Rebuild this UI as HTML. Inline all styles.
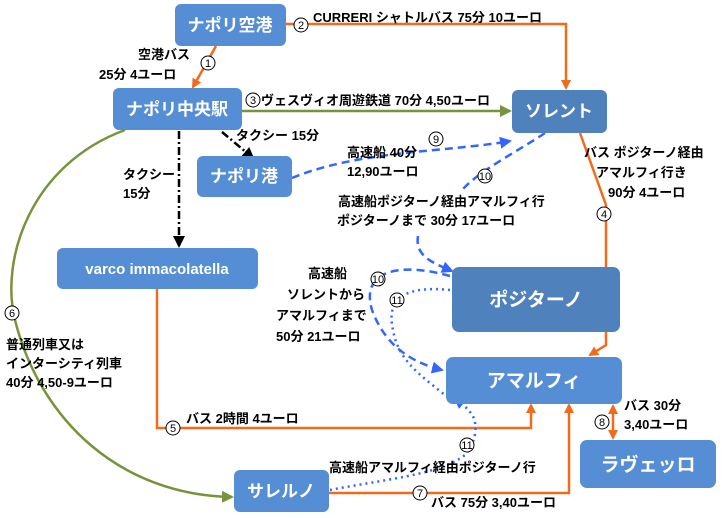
<!DOCTYPE html>
<html><head><meta charset="utf-8"><style>
body{margin:0;background:#fff;}
svg{display:block;font-family:"Liberation Sans","Noto Sans CJK JP",sans-serif;}
.n{fill:#558ed5;}
.nt{fill:#fff;font-weight:bold;font-size:17px;text-anchor:middle;}
.l{font-size:13px;font-weight:bold;fill:#000;}
.c{fill:#fff;stroke:#000;stroke-width:1;}
.cn{font-size:11px;text-anchor:middle;fill:#000;}
</style></head><body>
<svg width="723" height="518" viewBox="0 0 723 518">
<defs>
<marker id="ao" markerWidth="10" markerHeight="10" refX="8" refY="5" orient="auto" markerUnits="userSpaceOnUse"><path d="M0,0L10,5L0,10z" fill="#f26b1d"/></marker>
<marker id="ao2" markerWidth="10" markerHeight="10" refX="8" refY="5" orient="auto-start-reverse" markerUnits="userSpaceOnUse"><path d="M0,0L10,5L0,10z" fill="#f26b1d"/></marker>
<marker id="ag" markerWidth="12" markerHeight="12" refX="10" refY="6" orient="auto" markerUnits="userSpaceOnUse"><path d="M0,0L12,6L0,12z" fill="#77933c"/></marker>
<marker id="ab" markerWidth="12" markerHeight="12" refX="10" refY="6" orient="auto" markerUnits="userSpaceOnUse"><path d="M0,0L12,6L0,12z" fill="#3366ff"/></marker>
<marker id="ak" markerWidth="12" markerHeight="12" refX="10" refY="6" orient="auto" markerUnits="userSpaceOnUse"><path d="M0,0L12,6L0,12z" fill="#000"/></marker>
</defs>

<!-- orange -->
<g stroke="#f26b1d" stroke-width="2.5" fill="none">
<path d="M285,24 H566 V88" marker-end="url(#ao)"/>
<path d="M216,46 L193,87" marker-end="url(#ao)"/>
<path d="M580,133 L606,205 V345 L590,355" marker-end="url(#ao)"/>
<path d="M157,289 V428 H531 V405" marker-end="url(#ao)"/>
<path d="M328,493 H569 V405" marker-end="url(#ao)"/>
<path d="M613,406 V438" marker-start="url(#ao2)" marker-end="url(#ao)"/>
</g>
<!-- green -->
<g stroke="#77933c" stroke-width="2.5" fill="none">
<path d="M241,111 H510" marker-end="url(#ag)"/>
<path d="M125,130 C30,165 0,260 15,320 C40,420 120,495 232,497" marker-end="url(#ag)"/>
</g>
<!-- black taxi -->
<g stroke="#000" stroke-width="2.5" fill="none" stroke-dasharray="8,3,2,3">
<path d="M222,132 L253,158" marker-end="url(#ak)"/>
<path d="M179,131 V246" marker-end="url(#ak)"/>
</g>
<!-- blue -->
<g stroke="#3366ff" stroke-width="2.5" fill="none">
<path d="M292,178 C360,150 450,152 510,141" stroke-dasharray="8,5" marker-end="url(#ab)"/>
<path d="M545,133 C520,150 480,170 462,190" stroke-dasharray="8,5"/>
<path d="M418,236 C415,255 430,262 452,271" stroke-dasharray="8,5" marker-end="url(#ab)"/>
<path d="M450,276 C400,262 360,270 372,310 C385,345 410,362 442,370" stroke-dasharray="8,5" marker-end="url(#ab)"/>
<path d="M450,290 C410,286 385,295 393,330 C398,360 420,375 445,395" stroke-dasharray="2,4"/>
<path d="M330,490 C380,480 440,475 465,455 C478,440 478,420 470,412 C465,406 460,402 455,398" stroke-dasharray="2,4" marker-end="url(#ab)"/>
</g>

<!-- nodes -->
<rect class="n" x="175" y="4" width="111" height="42" rx="6"/><text class="nt" x="230" y="31">ナポリ空港</text>
<rect class="n" x="113" y="88" width="129" height="42" rx="6"/><text class="nt" x="177" y="115">ナポリ中央駅</text>
<rect x="512" y="90" width="95" height="43" rx="6" fill="#4f81bd"/><text class="nt" x="559" y="117">ソレント</text>
<rect class="n" x="197" y="156" width="95" height="41" rx="6"/><text class="nt" x="244" y="182">ナポリ港</text>
<rect class="n" x="57" y="248" width="201" height="41" rx="6"/><text class="nt" x="157" y="274" style="font-size:15px">varco immacolatella</text>
<rect x="452" y="267" width="168" height="65" rx="7" fill="#4f81bd"/><text class="nt" x="536" y="306" style="font-size:19px">ポジターノ</text>
<rect class="n" x="446" y="357" width="176" height="47" rx="7"/><text class="nt" x="534" y="387" style="font-size:19px">アマルフィ</text>
<rect class="n" x="580" y="440" width="136" height="48" rx="7"/><text class="nt" x="648" y="471" style="font-size:19px">ラヴェッロ</text>
<rect class="n" x="234" y="470" width="95" height="42" rx="6"/><text class="nt" x="281" y="497">サレルノ</text>

<!-- circles -->
<g>
<circle class="c" cx="301" cy="25" r="7"/><text class="cn" x="301" y="29">2</text>
<circle class="c" cx="208" cy="63" r="7"/><text class="cn" x="208" y="67">1</text>
<circle class="c" cx="253" cy="100" r="7"/><text class="cn" x="253" y="104">3</text>
<circle class="c" cx="436" cy="139" r="7"/><text class="cn" x="436" y="143">9</text>
<circle class="c" cx="485" cy="176" r="7"/><text class="cn" x="485" y="180">10</text>
<circle class="c" cx="604" cy="214" r="7"/><text class="cn" x="604" y="218">4</text>
<circle class="c" cx="378" cy="279" r="7"/><text class="cn" x="378" y="283">10</text>
<circle class="c" cx="397" cy="300" r="7"/><text class="cn" x="397" y="304">11</text>
<circle class="c" cx="12" cy="313" r="7"/><text class="cn" x="12" y="317">6</text>
<circle class="c" cx="173" cy="428" r="7"/><text class="cn" x="173" y="432">5</text>
<circle class="c" cx="467" cy="445" r="7"/><text class="cn" x="467" y="449">11</text>
<circle class="c" cx="602" cy="422" r="7"/><text class="cn" x="602" y="426">8</text>
<circle class="c" cx="420" cy="493" r="7"/><text class="cn" x="420" y="497">7</text>
</g>

<!-- labels -->
<g class="l">
<text x="313" y="22">CURRERI シャトルバス 75分 10ユーロ</text>
<text x="138" y="59">空港バス</text>
<text x="99" y="79">25分 4ユーロ</text>
<text x="261" y="105">ヴェスヴィオ周遊鉄道 70分 4,50ユーロ</text>
<text x="236" y="140">タクシー 15分</text>
<text x="123" y="179">タクシー</text>
<text x="123" y="198">15分</text>
<text x="347" y="157">高速船 40分</text>
<text x="347" y="176">12,90ユーロ</text>
<text x="338" y="206">高速船ポジターノ経由アマルフィ行</text>
<text x="337" y="225">ポジターノまで 30分 17ユーロ</text>
<text x="584" y="157">バス ポジターノ経由</text>
<text x="596" y="177">アマルフィ行き</text>
<text x="608" y="197">90分 4ユーロ</text>
<text x="308" y="278">高速船</text>
<text x="287" y="299">ソレントから</text>
<text x="276" y="320">アマルフィまで</text>
<text x="276" y="341">50分 21ユーロ</text>
<text x="6" y="349">普通列車又は</text>
<text x="6" y="368">インターシティ列車</text>
<text x="6" y="387">40分 4,50-9ユーロ</text>
<text x="186" y="423">バス 2時間 4ユーロ</text>
<text x="624" y="410">バス 30分</text>
<text x="624" y="429">3,40ユーロ</text>
<text x="329" y="472">高速船アマルフィ経由ポジターノ行</text>
<text x="431" y="507">バス 75分 3,40ユーロ</text>
</g>
</svg>
</body></html>
